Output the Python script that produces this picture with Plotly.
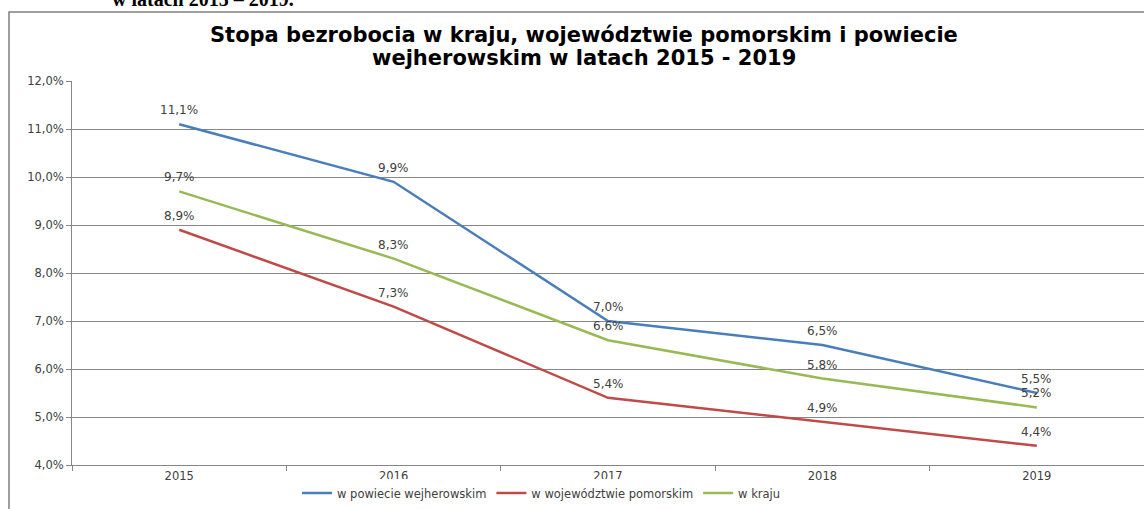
import plotly.graph_objects as go

years = ["2015", "2016", "2017", "2018", "2019"]
powiat = [11.1, 9.9, 7.0, 6.5, 5.5]
wojewodztwo = [8.9, 7.3, 5.4, 4.9, 4.4]
kraj = [9.7, 8.3, 6.6, 5.8, 5.2]
names = ["w powiecie wejherowskim", "w województwie pomorskim", "w kraju"]
colors = ["#4A7EBB", "#BE4B48", "#98B954"]

W, H = 1144, 509
ml, mr, mt, mb = 72, 0, 81, 44
pw, ph = W - ml - mr, H - mt - mb

def fmt(v):
    return f"{v:.1f}%".replace(".", ",")

fig = go.Figure()
for name, vals, c in zip(names, [powiat, wojewodztwo, kraj], colors):
    fig.add_trace(go.Scatter(
        x=years, y=vals, name=name, mode="lines",
        line=dict(color=c, width=2.5),
        cliponaxis=False,
    ))
    for i, v in enumerate(vals):
        fig.add_annotation(x=i, y=v, xref="x", yref="y", text=fmt(v), showarrow=False,
                           yshift=14, xanchor="center", yanchor="middle",
                           font=dict(family="DejaVu Sans", size=12, color="#404040"))

fig.update_layout(
    width=W, height=H,
    margin=dict(l=ml, r=mr, t=mt, b=mb),
    paper_bgcolor="white", plot_bgcolor="white",
    separators=",.",
    showlegend=True,
    legend=dict(orientation="h", x=0.438, xanchor="center", y=-(493 - (mt + ph)) / ph, yanchor="middle",
                font=dict(family="DejaVu Sans", size=11.5, color="#404040"),
                itemwidth=30, tracegroupgap=0),
    font=dict(family="DejaVu Sans", size=11, color="#404040"),
)
fig.update_xaxes(
    type="category", showgrid=False, showline=True, linecolor="#868686", linewidth=1,
    ticks="outside", tickson="boundaries", ticklen=5, tickcolor="#868686",
    tickfont=dict(family="DejaVu Sans", size=11.5, color="#404040"),
    range=[-0.5, 4.5], automargin=False,
)
fig.update_yaxes(
    range=[4, 12], dtick=1, tickformat=".1f", ticksuffix="%",
    showgrid=True, gridcolor="#868686", gridwidth=1,
    showline=True, linecolor="#868686", linewidth=1,
    ticks="outside", ticklen=5, tickcolor="#868686",
    tickfont=dict(family="DejaVu Sans", size=11.5, color="#404040"),
    zeroline=False, automargin=False,
)

def py(pix):
    return 1 + (mt - pix) / ph

def px(pix):
    return (pix - ml) / pw

# Outer chart border
fig.add_shape(type="rect", xref="paper", yref="paper",
              x0=px(9), x1=1.02, y0=-(mb + 10) / ph, y1=py(12),
              line=dict(color="#7F7F7F", width=1.5), fillcolor="rgba(0,0,0,0)", layer="below")

fig.add_annotation(text="Stopa bezrobocia w kraju, województwie pomorskim i powiecie",
                   xref="paper", yref="paper", x=px(584), y=py(35), showarrow=False,
                   xanchor="center", yanchor="middle",
                   font=dict(family="DejaVu Sans", size=21, color="#000000", weight="bold"))
fig.add_annotation(text="wejherowskim w latach 2015 - 2019",
                   xref="paper", yref="paper", x=px(584), y=py(58), showarrow=False,
                   xanchor="center", yanchor="middle",
                   font=dict(family="DejaVu Sans", size=21, color="#000000", weight="bold"))
fig.add_annotation(text="w latach 2015 – 2019.",
                   xref="paper", yref="paper", x=px(110), y=py(-1), showarrow=False,
                   xanchor="left", yanchor="middle",
                   font=dict(family="Liberation Serif", size=20, color="#000000", weight="bold"))

fig.write_html("out.html", config={"displayModeBar": False},
               post_script="document.body.style.margin='0';")
